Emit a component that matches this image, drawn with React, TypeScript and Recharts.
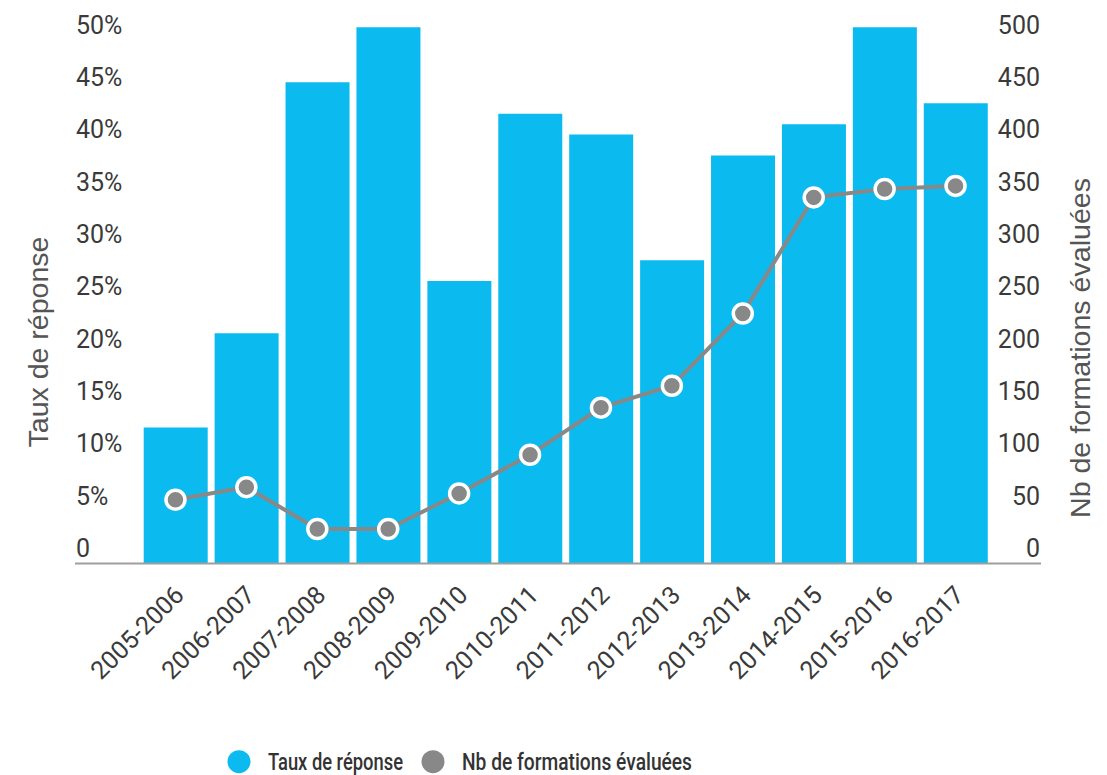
import React from 'react';
import { ComposedChart, Bar, Line, XAxis, YAxis, Legend } from 'recharts';

const categories = [
  '2005-2006', '2006-2007', '2007-2008', '2008-2009', '2009-2010', '2010-2011',
  '2011-2012', '2012-2013', '2013-2014', '2014-2015', '2015-2016', '2016-2017',
];
const tauxReponse = [13, 22, 46, 52, 27, 43, 41, 29, 39, 42, 52, 44];
const nbFormations = [61, 73, 33, 33, 67, 104, 149, 170, 239, 350, 358, 361];
const leftTicks = [0, 5, 10, 15, 20, 25, 30, 35, 40, 45, 50];
const rightTicks = [0, 50, 100, 150, 200, 250, 300, 350, 400, 450, 500];
const seriesNames = ['Taux de réponse', 'Nb de formations évaluées'];

const BAR_COLOR = '#0BBBEF';
const LINE_COLOR = '#888888';
const TEXT_COLOR = '#3a3a3a';
const TITLE_COLOR = '#555555';
const TICK_FONT = 'Roboto, "Noto Sans", sans-serif';

const data = categories.map((c, i) => ({ category: c, taux: tauxReponse[i], nb: nbFormations[i] }));

const XTick = (props: any) => {
  const { x, y, payload } = props;
  return (
    <g transform={`translate(${x + 10},${y + 33})`}>
      <text
        x={0}
        y={0}
        textAnchor="end"
        transform="rotate(-45)"
        fill={TEXT_COLOR}
        fontFamily={TICK_FONT}
        fontSize={25}
      >
        {payload.value}
      </text>
    </g>
  );
};

const LeftTick = (props: any) => {
  const { x, y, payload } = props;
  const v = payload.value;
  return (
    <text x={x + 1} y={y - 15.5} dy="0.355em" textAnchor="start" fill={TEXT_COLOR} fontFamily={TICK_FONT} fontSize={25}>
      {v === 0 ? '0' : `${v}%`}
    </text>
  );
};

const RightTick = (props: any) => {
  const { x, y, payload } = props;
  return (
    <text x={x - 1} y={y - 15.5} dy="0.355em" textAnchor="end" fill={TEXT_COLOR} fontFamily={TICK_FONT} fontSize={25}>
      {payload.value}
    </text>
  );
};

const LeftTitle = () => (
  <text
    x={48}
    y={342}
    transform="rotate(-90, 48, 342)"
    textAnchor="middle"
    fill={TITLE_COLOR}
    fontFamily='"Liberation Sans", Arial, sans-serif'
    fontSize={28}
    textLength={211}
    lengthAdjust="spacingAndGlyphs"
  >
    Taux de réponse
  </text>
);

const RightTitle = () => (
  <text
    x={1090}
    y={348}
    transform="rotate(-90, 1090, 348)"
    textAnchor="middle"
    fill={TITLE_COLOR}
    fontFamily='"Liberation Sans", Arial, sans-serif'
    fontSize={28}
    textLength={340}
    lengthAdjust="spacingAndGlyphs"
  >
    Nb de formations évaluées
  </text>
);

const legendTextWidths: Record<string, number> = {
  'Taux de réponse': 135,
  'Nb de formations évaluées': 230,
};

const LegendContent = (props: any) => {
  const { payload } = props;
  const items: any[] = [...(payload || [])].sort(
    (a: any, b: any) => seriesNames.indexOf(a.value) - seriesNames.indexOf(b.value)
  );
  let cursor = 239;
  return (
    <div style={{ height: 40, width: 1107, position: 'relative' }}>
      <svg width={1107} height={40} style={{ display: 'block' }}>
        {items.map((entry: any, i: number) => {
          const cx = cursor;
          const tx = cx + 29;
          const w = legendTextWidths[entry.value] ?? 150;
          cursor = tx + w + 30;
          return (
            <g key={`leg-${i}`}>
              <circle cx={cx} cy={26.7} r={11.5} fill={entry.color} />
              <text
                x={tx}
                y={35}
                fill="#333333"
                fontFamily={TICK_FONT}
                fontWeight={500}
                fontSize={24}
                textLength={w}
                lengthAdjust="spacingAndGlyphs"
              >
                {entry.value}
              </text>
            </g>
          );
        })}
      </svg>
    </div>
  );
};

export default function App() {
  return (
    <div style={{ position: 'absolute', left: 0, top: 0, width: 1107, height: 775, background: '#fff', overflow: 'hidden' }}>
      <ComposedChart
        width={1107}
        height={775}
        data={data}
        margin={{ top: 27.3, right: 0, bottom: 0, left: 0 }}
        barCategoryGap={3.7}
      >
        <XAxis
          dataKey="category"
          padding={{ left: 65, right: 50 }}
          height={171.5}
          interval={0}
          tickSize={0}
          tickMargin={0}
          tickLine={false}
          axisLine={{ stroke: '#9e9e9e', strokeWidth: 2 }}
          tick={<XTick />}
        />
        <YAxis
          yAxisId="left"
          orientation="left"
          width={75}
          domain={[0, 51.26]}
          ticks={leftTicks}
          allowDataOverflow
          axisLine={false}
          tickLine={false}
          tickSize={0}
          tickMargin={0}
          tick={<LeftTick />}
          label={<LeftTitle />}
        />
        <YAxis
          yAxisId="right"
          orientation="right"
          width={66}
          domain={[0, 512.6]}
          ticks={rightTicks}
          allowDataOverflow
          axisLine={false}
          tickLine={false}
          tickSize={0}
          tickMargin={0}
          tick={<RightTick />}
          label={<RightTitle />}
        />
        <Legend verticalAlign="bottom" content={<LegendContent />} />
        <Bar
          yAxisId="left"
          dataKey="taux"
          name={seriesNames[0]}
          fill={BAR_COLOR}
          isAnimationActive={false}
        />
        <Line
          yAxisId="right"
          dataKey="nb"
          name={seriesNames[1]}
          stroke={LINE_COLOR}
          strokeWidth={4}
          dot={{ r: 9.5, fill: LINE_COLOR, stroke: '#ffffff', strokeWidth: 3.5 }}
          activeDot={false}
          isAnimationActive={false}
        />
      </ComposedChart>
    </div>
  );
}
